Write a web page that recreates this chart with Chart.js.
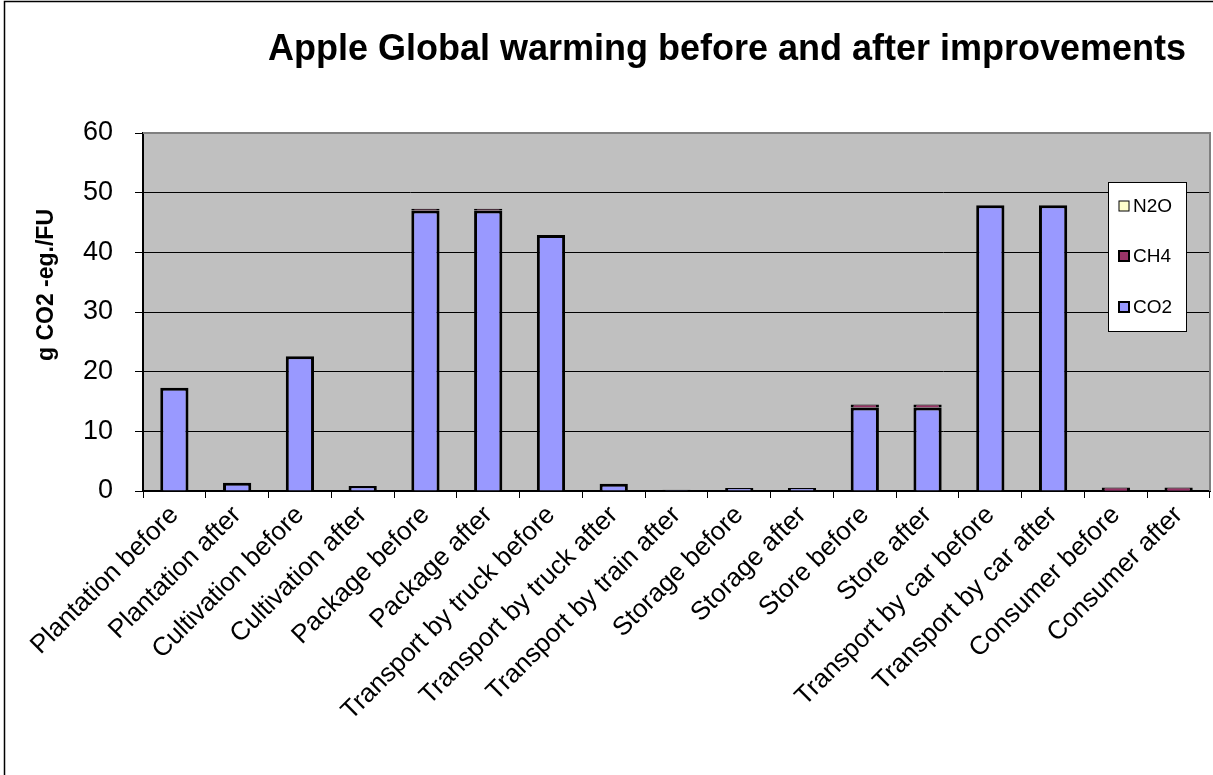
<!DOCTYPE html>
<html>
<head>
<meta charset="utf-8">
<script src="https://cdn.jsdelivr.net/npm/chart.js@4.4.1/dist/chart.umd.min.js"></script>
<style>
  html, body { margin: 0; padding: 0; background: #ffffff; }
  #wrap { width: 1213px; height: 775px; position: relative; }
</style>
</head>
<body>
<div id="wrap"><canvas id="chart" width="1213" height="775"></canvas></div>
<script>
// Life-cycle stages, each shown before and after improvements
const categories = [
  'Plantation before', 'Plantation after', 'Cultivation before', 'Cultivation after',
  'Package before', 'Package after', 'Transport by truck before', 'Transport by truck after',
  'Transport by train after', 'Storage before', 'Storage after', 'Store before', 'Store after',
  'Transport by car before', 'Transport by car after', 'Consumer before', 'Consumer after'
];

// g CO2-eq per functional unit, split by gas
const co2 = [17.3, 1.4, 22.6, 0.85, 47.0, 47.0, 42.9, 1.2, 0.2, 0.5, 0.5, 14.0, 14.0, 47.9, 47.9, 0.05, 0.05];
const ch4 = [null, null, null, null, 0.3, 0.3, null, null, null, null, null, 0.5, 0.5, null, null, 0.55, 0.55];
const n2o = [null, null, null, null, null, null, null, null, null, null, null, null, null, null, null, null, null];

const yTicks = [0, 10, 20, 30, 40, 50, 60];

const titleText = 'Apple Global warming before and after improvements';
const yTitle = 'g CO2 -eg./FU';

const FONT = '"Liberation Sans", Arial, sans-serif';

// Frame, title, axis title and the boxed legend are painted by this plugin
const decor = {
  id: 'decor',
  beforeDraw(chart) {
    const ctx = chart.ctx;
    ctx.save();
    ctx.fillStyle = '#ffffff';
    ctx.fillRect(0, 0, chart.width, chart.height);
    const a = chart.chartArea;
    ctx.fillStyle = '#c0c0c0';
    ctx.fillRect(a.left, a.top, a.right - a.left, a.bottom - a.top);
    ctx.restore();
  },
  afterDraw(chart) {
    const ctx = chart.ctx;
    const a = chart.chartArea;
    ctx.save();
    // outer frame
    ctx.strokeStyle = '#000000';
    ctx.lineWidth = 1.5;
    ctx.beginPath();
    ctx.moveTo(4.5, chart.height + 5);
    ctx.lineTo(4.5, 1.5);
    ctx.lineTo(chart.width + 5, 1.5);
    ctx.stroke();

    // plot area frame (top and right)
    ctx.strokeStyle = '#808080';
    ctx.lineWidth = 2;
    ctx.beginPath();
    ctx.moveTo(a.left, a.top);
    ctx.lineTo(a.right, a.top);
    ctx.lineTo(a.right, a.bottom);
    ctx.stroke();

    // title
    ctx.fillStyle = '#000000';
    ctx.font = 'bold 36px ' + FONT;
    ctx.textAlign = 'center';
    ctx.textBaseline = 'middle';
    ctx.fillText(titleText, 727, 50);

    // y axis title
    ctx.save();
    ctx.translate(47, 285);
    ctx.rotate(-Math.PI / 2);
    ctx.font = 'bold 23px ' + FONT;
    ctx.fillText(yTitle, 0, 0);
    ctx.restore();

    // legend box, gases listed top-down in stacking order
    const lx = 1108, ly = 182, lw = 78, lh = 149;
    ctx.fillStyle = '#ffffff';
    ctx.fillRect(lx, ly, lw, lh);
    ctx.strokeStyle = '#000000';
    ctx.lineWidth = 1;
    ctx.strokeRect(lx + 0.5, ly + 0.5, lw, lh);
    const rows = [206, 256, 307];
    const sets = chart.data.datasets.slice().reverse();
    ctx.font = '19px ' + FONT;
    ctx.textAlign = 'left';
    ctx.textBaseline = 'middle';
    sets.forEach((ds, i) => {
      const y = rows[i];
      ctx.fillStyle = ds.backgroundColor;
      ctx.fillRect(lx + 11, y - 5, 10, 10);
      ctx.strokeStyle = '#000000';
      ctx.lineWidth = i === 0 ? 1 : 2;
      ctx.strokeRect(lx + 11, y - 5, 10, 10);
      ctx.fillStyle = '#000000';
      ctx.fillText(ds.label, lx + 25, y + 1);
    });
    ctx.restore();
  }
};

const barStyle = {
  borderColor: '#000000',
  borderSkipped: 'start',
  barPercentage: 0.45,
  categoryPercentage: 1.0
};

new Chart(document.getElementById('chart'), {
  type: 'bar',
  data: {
    labels: categories,
    datasets: [
      Object.assign({ label: 'CO2', data: co2, backgroundColor: '#9999ff',
        borderWidth: { top: 3, left: 3, right: 3, bottom: 0 } }, barStyle),
      Object.assign({ label: 'CH4', data: ch4, backgroundColor: '#993366',
        borderWidth: { top: 1, left: 3, right: 3, bottom: 1 } }, barStyle),
      Object.assign({ label: 'N2O', data: n2o, backgroundColor: '#ffffcc',
        borderWidth: { top: 1, left: 3, right: 3, bottom: 1 } }, barStyle)
    ]
  },
  options: {
    responsive: false,
    animation: false,
    devicePixelRatio: 1,
    layout: { padding: { left: 0, top: 133, right: 3, bottom: 0 } },
    plugins: {
      legend: { display: false },
      title: { display: false },
      tooltip: { enabled: false }
    },
    scales: {
      x: {
        stacked: true,
        offset: true,
        grid: {
          display: true,
          offset: true,
          drawOnChartArea: false,
          drawTicks: true,
          tickLength: 7,
          color: '#000000',
          lineWidth: 1
        },
        border: { display: true, color: '#000000', width: 2 },
        ticks: {
          minRotation: 45,
          maxRotation: 45,
          autoSkip: false,
          padding: 2,
          color: '#000000',
          font: { family: FONT, size: 26 }
        },
        afterFit(scale) { scale.height = 775 - 491; }
      },
      y: {
        stacked: true,
        min: 0,
        max: 60,
        afterBuildTicks(scale) { scale.ticks = yTicks.map(v => ({ value: v })); },
        grid: {
          color: '#000000',
          lineWidth: 1,
          tickLength: 8
        },
        border: { display: true, color: '#000000', width: 2 },
        ticks: {
          padding: 22,
          color: '#000000',
          font: { family: FONT, size: 27 }
        },
        afterFit(scale) { scale.width = 143; }
      }
    }
  },
  plugins: [decor]
});
</script>
</body>
</html>
